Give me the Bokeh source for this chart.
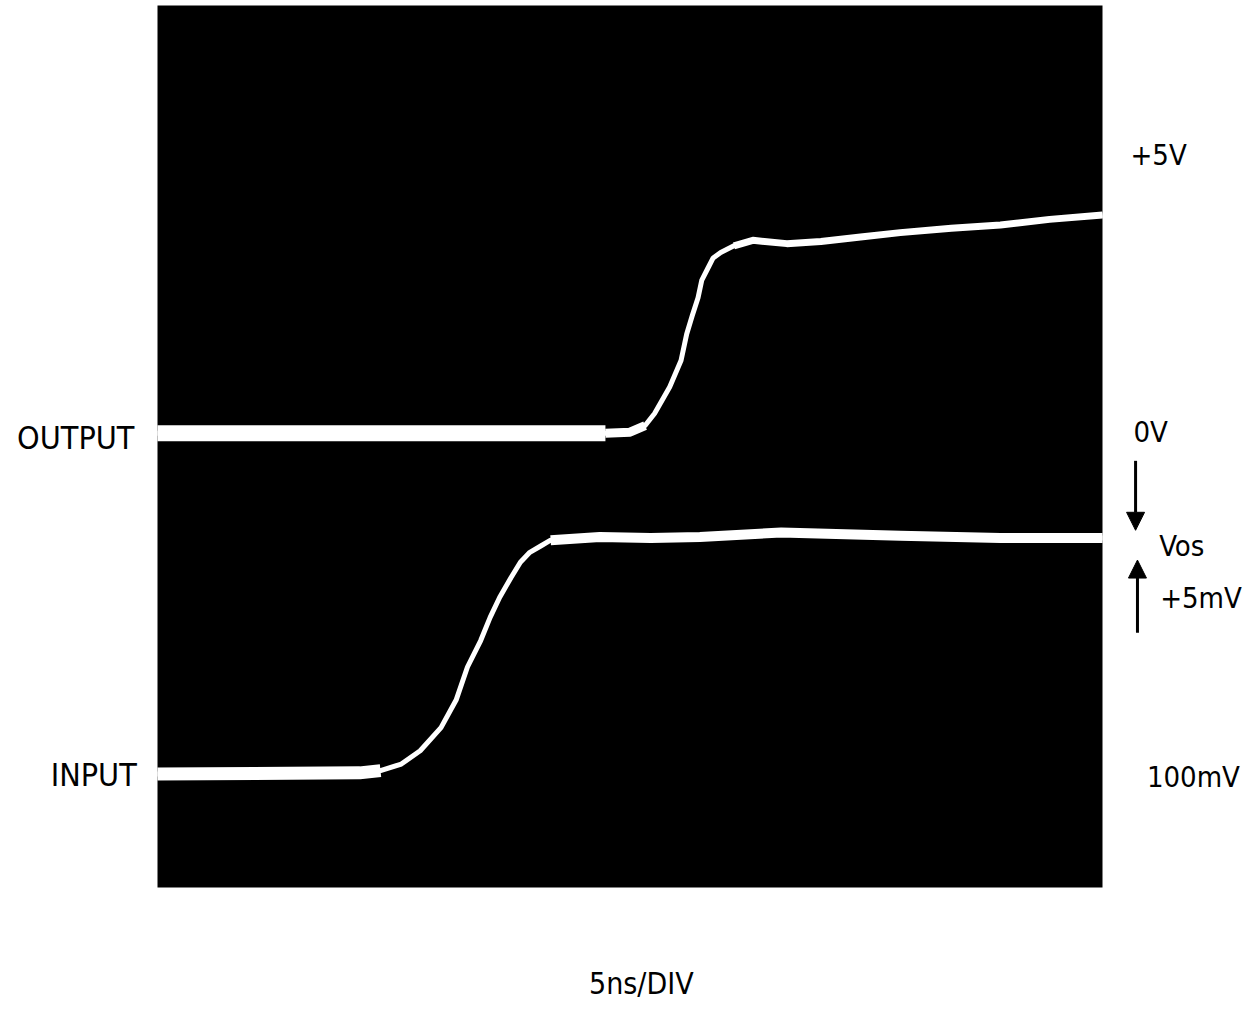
from bokeh.plotting import figure
from bokeh.models import Label, Arrow, NormalHead, Range1d
from bokeh.embed import file_html
from bokeh.resources import INLINE

# oscilloscope screen: 10 divisions of 5 ns, 8 vertical divisions
SCREEN_T = [0, 50]
SCREEN_V = [0, 8]

# time in ns, vertical position in screen divisions
out_t = [0, 23.7, 25.0, 25.8, 26.3, 27.1, 27.7, 28.0, 28.3, 28.6, 28.8, 29.1, 29.4, 29.8,
         30.5, 31.5, 33.3, 35.1, 37.2, 39.3, 42.0, 44.6, 47.2, 50.0]
out_v = [4.12, 4.12, 4.13, 4.19, 4.30, 4.54, 4.78, 5.02, 5.19, 5.35, 5.51, 5.61, 5.71, 5.76,
         5.82, 5.87, 5.84, 5.86, 5.90, 5.94, 5.98, 6.01, 6.06, 6.10]

in_t = [0, 10.7, 11.8, 12.9, 13.9, 15.0, 15.8, 16.4, 17.1, 17.6, 18.1, 18.7, 19.2, 19.7,
        20.3, 20.8, 23.4, 26.1, 28.7, 33.0, 39.3, 44.6, 50.0]
in_v = [1.03, 1.04, 1.06, 1.12, 1.24, 1.45, 1.70, 2.00, 2.24, 2.45, 2.63, 2.81, 2.95, 3.04,
        3.10, 3.15, 3.18, 3.17, 3.18, 3.22, 3.19, 3.17, 3.17]

FONT = "'DejaVu Sans Condensed', 'Liberation Sans', sans-serif"

W, H = 1250, 1004
PX_T = 18.9     # pixels per ns
PX_V = 110.25   # pixels per division
X0, Y0 = 157, 887  # pixel position of screen origin

p = figure(width=W, height=H, output_backend="svg", toolbar_location=None,
           x_axis_location=None, y_axis_location=None,
           x_range=Range1d(-X0 / PX_T, (W - X0) / PX_T),
           y_range=Range1d(-(H - Y0) / PX_V, Y0 / PX_V),
           min_border=0)
p.background_fill_color = "white"
p.border_fill_color = "white"
p.outline_line_color = None
p.grid.visible = False

p.quad(left=SCREEN_T[0], right=SCREEN_T[1], bottom=SCREEN_V[0], top=SCREEN_V[1],
       fill_color="black", line_color=None)

# traces
kw = dict(line_color="white", line_join="round", line_cap="butt")
p.line(out_t, out_v, line_width=5, **kw)
p.line(out_t[:2], out_v[:2], line_width=16, **kw)
p.line(out_t[1:4], out_v[1:4], line_width=9, **kw)
p.line(out_t[14:], out_v[14:], line_width=7, **kw)
p.line(in_t, in_v, line_width=5, **kw)
p.line(in_t[:3], in_v[:3], line_width=13, **kw)
p.line(in_t[15:], in_v[15:], line_width=10, **kw)

def lab(x, y, text, align="left", size="29px"):
    p.add_layout(Label(x=x, y=y, text=text, text_align=align, text_baseline="middle",
                       text_font=FONT, text_font_size=size, text_color="black"))

lab(-1.22, 4.08, "OUTPUT", "right", "32px")
lab(-1.10, 1.02, "INPUT", "right", "32px")
lab(51.48, 6.64, "+5V")
lab(51.64, 4.13, "0V")
lab(53.0, 3.10, "Vos")
lab(53.05, 2.63, "+5mV")
lab(52.35, 1.00, "100mV")
lab(25.6, -0.87, "5ns/DIV", "center", "30px")

p.add_layout(Arrow(x_start=51.75, y_start=3.87, x_end=51.75, y_end=3.24, line_width=3,
                   line_color="black",
                   end=NormalHead(size=18, fill_color="black", line_color="black")))
p.add_layout(Arrow(x_start=51.85, y_start=2.31, x_end=51.85, y_end=2.97, line_width=3,
                   line_color="black",
                   end=NormalHead(size=18, fill_color="black", line_color="black")))

open("out.html", "w").write(file_html(p, INLINE))
